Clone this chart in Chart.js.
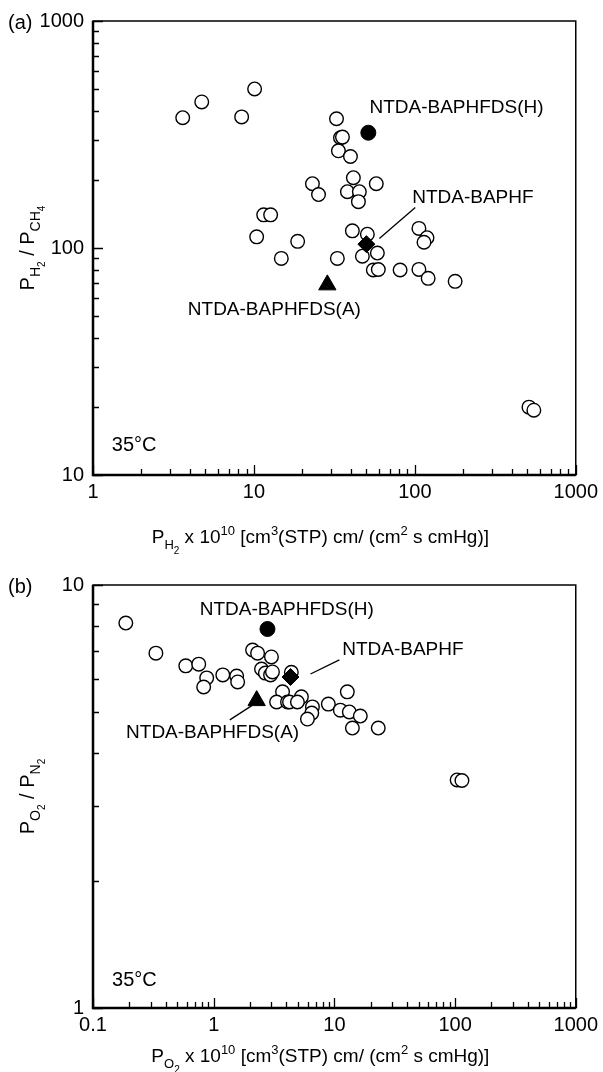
<!DOCTYPE html>
<html>
<head>
<meta charset="utf-8">
<script src="https://cdn.jsdelivr.net/npm/chart.js@4"></script>
<style>
body{margin:0;background:#fff;}
#wrap{position:relative;width:603px;height:1072px;overflow:hidden;}
canvas{position:absolute;left:0;}
</style>
</head>
<body>
<div id="wrap">
<canvas id="chartA" width="603" height="560" style="top:0;width:603px;height:560px"></canvas>
<canvas id="chartB" width="603" height="512" style="top:560px;width:603px;height:512px"></canvas>
</div>
<script>
// (a) H2/CH4
var h2Perm = [3.61,4.74,8.39,10.1,11.5,12.7,10.4,18.7,14.8,23.1,25.2,32.6,34.5,35.5,33.5,39.8,41.5,38.1,45.2,44.6,57.6,40.9,50.7,33,47.2,58.5,55.2,59.3,81,106,119,114,106,121,178,512,549];
var h2ch4Sel = [375,440,378,502,140,140,112,107,90,192,172,371,306,308,268,253,204,177,177,160,192,119,115,90,92,95,80,80.4,80,122,111,106,80.5,73.5,71.3,19.9,19.3];
// (b) O2/N2
var o2Perm = [0.187,0.332,0.587,0.752,0.875,0.826,1.19,1.55,1.58,2.10,2.31,3.01,2.49,2.68,2.96,3.07,3.72,3.32,4.09,4.4,4.25,5.33,4.94,6.58,6.5,5.98,8.91,11.2,12.8,13.3,16.4,14.1,23.1,104,114];
var o2n2Sel = [8.13,6.90,6.44,6.50,6.03,5.74,6.13,6.09,5.90,7.02,6.90,6.76,6.33,6.19,6.13,6.23,5.59,5.29,5.29,6.22,5.29,5.44,5.29,5.15,4.98,4.82,5.23,5.06,5.59,5.01,4.90,4.59,4.59,3.46,3.45];
// this work: (H), BAPHF, (A)
var polyNames = ['NTDA-BAPHFDS(H)', 'NTDA-BAPHF', 'NTDA-BAPHFDS(A)'];
var polyH2Perm = [51.4, 50, 28.6];
var polyH2CH4 = [322, 104, 68.8];
var polyO2Perm = [2.79, 4.33, 2.27];
var polyO2N2 = [7.87, 6.06, 5.33];

var xTicksA = [1, 10, 100, 1000];
var yTicksA = [10, 100, 1000];
var xTicksB = [0.1, 1, 10, 100, 1000];
var yTicksB = [1, 10];

var FONT = '"Liberation Sans", Arial, sans-serif';

function pts(xs, ys) {
  return xs.map(function(x, i) { return {x: x, y: ys[i]}; });
}

function rich(ctx, x, y, parts, align) {
  var w = 0;
  parts.forEach(function(p) { ctx.font = p[1] + 'px ' + FONT; w += ctx.measureText(p[0]).width; });
  var cx = align === 'center' ? x - w / 2 : x;
  ctx.textAlign = 'left';
  ctx.textBaseline = 'alphabetic';
  parts.forEach(function(p) {
    ctx.font = p[1] + 'px ' + FONT;
    ctx.fillText(p[0], cx, y + (p[2] || 0));
    cx += ctx.measureText(p[0]).width;
  });
}

function minorTicks(decades, min, max) {
  var out = [];
  decades.forEach(function(d) {
    for (var m = 1; m < 10; m++) {
      var v = d * m;
      if (v >= min * 0.999 && v <= max * 1.001) out.push({v: v, major: m === 1});
    }
  });
  return out;
}

var framePlugin = {
  id: 'frame',
  afterDraw: function(chart, args, o) {
    var ctx = chart.ctx, a = chart.chartArea;
    var xs = chart.scales.x, ys = chart.scales.y;
    ctx.save();
    ctx.strokeStyle = '#000';
    ctx.fillStyle = '#000';
    ctx.lineWidth = 1.5;
    ctx.strokeRect(a.left, a.top, a.right - a.left, a.bottom - a.top);
    ctx.lineWidth = 2.5;
    ctx.beginPath();
    ctx.moveTo(a.left, a.top);
    ctx.lineTo(a.left, a.bottom);
    ctx.lineTo(a.right, a.bottom);
    ctx.stroke();

    ctx.lineWidth = 1.3;
    ctx.beginPath();
    minorTicks(o.xTicks, xs.min, xs.max).forEach(function(t) {
      var px = Math.round(xs.getPixelForValue(t.v)) + 0.5;
      ctx.moveTo(px, a.bottom);
      ctx.lineTo(px, a.bottom - (t.major ? 10 : 6));
    });
    minorTicks(o.yTicks, ys.min, ys.max).forEach(function(t) {
      var py = Math.round(ys.getPixelForValue(t.v)) + 0.5;
      ctx.moveTo(a.left, py);
      ctx.lineTo(a.left + (t.major ? 10 : 6), py);
    });
    ctx.stroke();

    // leader lines
    ctx.lineWidth = 1.3;
    o.leaders.forEach(function(l) {
      ctx.beginPath();
      ctx.moveTo(xs.getPixelForValue(l[0]), ys.getPixelForValue(l[1]));
      ctx.lineTo(xs.getPixelForValue(l[2]), ys.getPixelForValue(l[3]));
      ctx.stroke();
    });

    // labels
    ctx.textBaseline = 'middle';
    o.notes.forEach(function(n) {
      ctx.font = n.size + 'px ' + FONT;
      ctx.textAlign = n.align || 'left';
      ctx.fillText(n.text, xs.getPixelForValue(n.x), ys.getPixelForValue(n.y));
    });

    ctx.font = '20px ' + FONT;
    ctx.textAlign = 'left';
    ctx.fillText(o.panel, 8, a.top + 2);

    rich(ctx, (a.left + a.right) / 2 - 14, o.xTitleY, o.xTitle, 'center');
    ctx.translate(34, (a.top + a.bottom) / 2);
    ctx.rotate(-Math.PI / 2);
    rich(ctx, 0, 0, o.yTitle, 'center');
    ctx.restore();
  }
};

function makeChart(id, cfg) {
  var h = document.getElementById(id).height;
  return new Chart(document.getElementById(id), {
    type: 'scatter',
    data: {
      datasets: [{
        label: polyNames[0],
        data: [{x: cfg.polyX[0], y: cfg.polyY[0]}],
        pointStyle: 'circle', pointRadius: 7.5,
        backgroundColor: '#000', borderColor: '#000', borderWidth: 1
      }, {
        label: polyNames[1],
        data: [{x: cfg.polyX[1], y: cfg.polyY[1]}],
        pointStyle: 'rectRot', pointRadius: 8.5,
        backgroundColor: '#000', borderColor: '#000', borderWidth: 1
      }, {
        label: polyNames[2],
        data: [{x: cfg.polyX[2], y: cfg.polyY[2]}],
        pointStyle: 'triangle', pointRadius: 10,
        backgroundColor: '#000', borderColor: '#000', borderWidth: 1
      }, {
        label: 'literature',
        data: pts(cfg.x, cfg.y),
        pointStyle: 'circle', pointRadius: 6.8,
        backgroundColor: '#fff', borderColor: '#000', borderWidth: 1.4
      }]
    },
    options: {
      responsive: false,
      animation: false,
      layout: { padding: { top: cfg.top, right: 26, left: 0, bottom: 0 } },
      plugins: {
        legend: { display: false },
        tooltip: { enabled: false },
        frame: cfg.frame
      },
      scales: {
        x: {
          type: 'logarithmic', min: cfg.xTicks[0], max: cfg.xTicks[cfg.xTicks.length - 1],
          grid: { display: false, drawTicks: false }, border: { display: false },
          afterBuildTicks: function(s) { s.ticks = cfg.xTicks.map(function(v) { return {value: v}; }); },
          afterFit: function(s) { s.height = h - cfg.bottom; },
          ticks: { color: '#000', font: { family: FONT, size: 20 }, padding: 5, maxRotation: 0, autoSkip: false,
            callback: function(v) { return String(v); } }
        },
        y: {
          type: 'logarithmic', min: cfg.yTicks[0], max: cfg.yTicks[cfg.yTicks.length - 1],
          grid: { display: false, drawTicks: false }, border: { display: false },
          afterBuildTicks: function(s) { s.ticks = cfg.yTicks.map(function(v) { return {value: v}; }); },
          afterFit: function(s) { s.width = 93; },
          ticks: { color: '#000', font: { family: FONT, size: 20 }, padding: 9, autoSkip: false,
            callback: function(v) { return String(v); } }
        }
      }
    },
    plugins: [framePlugin]
  });
}

makeChart('chartA', {
  x: h2Perm, y: h2ch4Sel, polyX: polyH2Perm, polyY: polyH2CH4,
  xTicks: xTicksA, yTicks: yTicksA, top: 20, bottom: 475,
  frame: {
    xTicks: xTicksA, yTicks: yTicksA, panel: '(a)', xTitleY: 543,
    xTitle: [['P', 19], ['H', 13, 6], ['2', 10, 11], [' x 10', 19], ['10', 13, -8], [' [cm', 19], ['3', 13, -8],
             ['(STP) cm/ (cm', 19], ['2', 13, -8], [' s cmHg)]', 19]],
    yTitle: [['P', 20], ['H', 14, 6], ['2', 10, 11], [' / P', 20], ['CH', 14, 6], ['4', 10, 11]],
    leaders: [[100.6, 150.7, 60.2, 110]],
    notes: [
      {text: 'NTDA-BAPHFDS(H)', x: 52.2, y: 415, size: 19},
      {text: 'NTDA-BAPHF', x: 96.3, y: 167, size: 19},
      {text: 'NTDA-BAPHFDS(A)', x: 13.4, y: 53.7, size: 19, align: 'center'},
      {text: '35\u00B0C', x: 1.31, y: 13.5, size: 20}
    ]
  }
});

makeChart('chartB', {
  x: o2Perm, y: o2n2Sel, polyX: polyO2Perm, polyY: polyO2N2,
  xTicks: xTicksB, yTicks: yTicksB, top: 25, bottom: 448,
  frame: {
    xTicks: xTicksB, yTicks: yTicksB, panel: '(b)', xTitleY: 502,
    xTitle: [['P', 19], ['O', 13, 6], ['2', 10, 11], [' x 10', 19], ['10', 13, -8], [' [cm', 19], ['3', 13, -8],
             ['(STP) cm/ (cm', 19], ['2', 13, -8], [' s cmHg)]', 19]],
    yTitle: [['P', 20], ['O', 14, 6], ['2', 10, 11], [' / P', 20], ['N', 14, 6], ['2', 10, 11]],
    leaders: [[11.0, 6.65, 6.34, 6.16], [1.36, 4.80, 2.10, 5.20]],
    notes: [
      {text: 'NTDA-BAPHFDS(H)', x: 0.766, y: 8.73, size: 19},
      {text: 'NTDA-BAPHF', x: 11.6, y: 7.02, size: 19},
      {text: 'NTDA-BAPHFDS(A)', x: 0.98, y: 4.47, size: 19, align: 'center'},
      {text: '35\u00B0C', x: 0.144, y: 1.16, size: 20}
    ]
  }
});
</script>
</body>
</html>
